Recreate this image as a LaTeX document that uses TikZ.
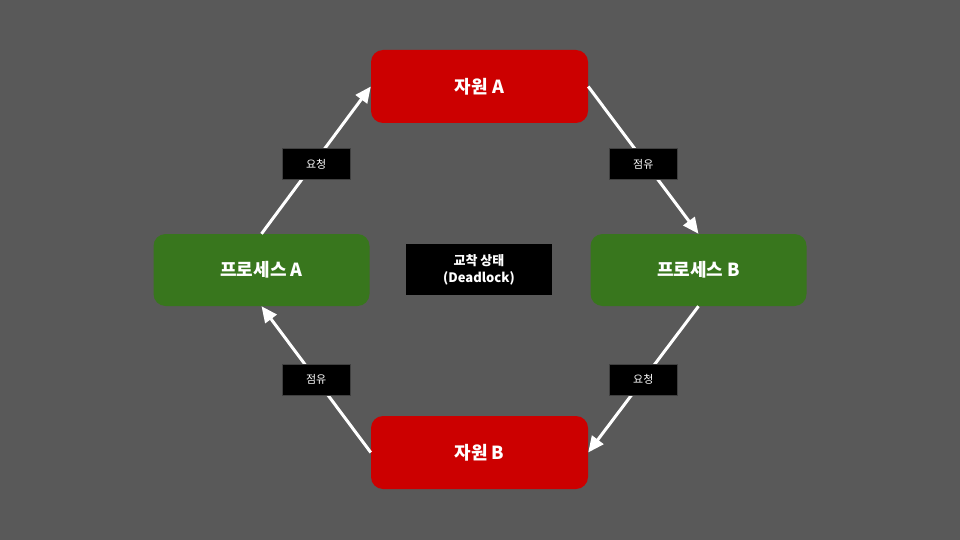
\documentclass[tikz,border=0pt]{standalone}
\usepackage{fontspec}
\setmainfont{Noto Sans CJK KR}
\usetikzlibrary{arrows.meta}

\definecolor{bggray}{HTML}{595959}
\definecolor{resred}{HTML}{CC0000}
\definecolor{procgreen}{HTML}{38761D}

\tikzset{
  resource/.style={fill=resred, rounded corners=12pt, minimum width=217pt, minimum height=73pt,
    text=white, font=\fontsize{18}{21}\selectfont\bfseries, inner sep=0pt},
  process/.style={fill=procgreen, rounded corners=12pt, minimum width=216pt, minimum height=72pt,
    text=white, font=\fontsize{18}{21}\selectfont\bfseries, inner sep=0pt},
  edgelabel/.style={fill=black, draw=black!75!white, line width=0.6pt, minimum width=68pt, minimum height=31pt,
    text=white, font=\fontsize{11}{13}\selectfont, inner sep=0pt},
  flow/.style={draw=white, line width=3pt, -{Triangle[length=16pt,width=14pt]}}
}

\begin{document}
\begin{tikzpicture}[x=1pt,y=-1pt]
            \fill[bggray] (0,0) rectangle (960,540);

            % resources and processes
            \node[resource] (resA) at (479.5,86.5) {자원 A};
            \node[resource] (resB) at (479.5,452.5) {자원 B};
            \node[process] (procA) at (261.5,270) {프로세스 A};
            \node[process] (procB) at (698.5,270) {프로세스 B};

            \node[fill=black, minimum width=146pt, minimum height=51pt, text=white, align=center,
              font=\fontsize{13}{17}\selectfont\bfseries] (dead) at (479,269.5) {교착 상태\\(Deadlock)};

            % cycle
            \draw[flow] (procA.north) -- node[edgelabel, yshift=-4pt] {요청} (resA.west);
            \draw[flow] (resA.east) -- node[edgelabel, yshift=-4pt] {점유} (procB.north);
            \draw[flow] (procB.south) -- node[edgelabel] {요청} (resB.east);
            \draw[flow] (resB.west) -- node[edgelabel] {점유} (procA.south);
        \end{tikzpicture}
\end{document}
